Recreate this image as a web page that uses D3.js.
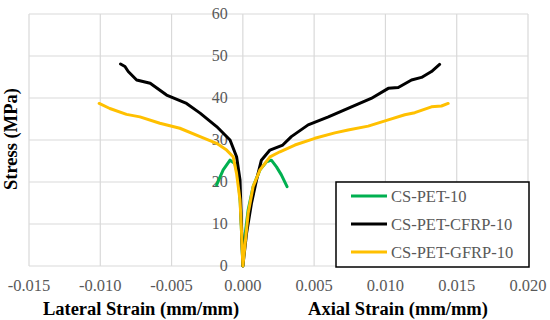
<!DOCTYPE html>
<html>
<head>
<meta charset="utf-8">
<script src="https://cdn.jsdelivr.net/npm/d3@7"></script>
<style>
  body { margin: 0; background: #fff; }
</style>
</head>
<body>
<div id="chart"></div>
<script>
// stress-strain curves, lateral strain negative, axial strain positive
const seriesNames = ['CS-PET-10', 'CS-PET-CFRP-10', 'CS-PET-GFRP-10'];
const seriesColors = ['#00b050', '#000000', '#ffc000'];

const petStrain = [-0.00184, -0.00138, -0.0009, -0.00056, -0.00033, -0.00018, -0.0001, 0,
    0.00014, 0.00037, 0.00072, 0.0012, 0.00166, 0.002, 0.00236, 0.0027, 0.0031];
const petStress = [19.3, 22.9, 25.2, 24.4, 21.3, 14.9, 8.6, 0,
    7.0, 13.3, 18.9, 22.9, 24.8, 25.2, 23.6, 21.7, 18.9];

const cfrpStrain = [-0.00858, -0.00827, -0.00804, -0.00745, -0.0065, -0.00535, -0.00395, -0.003,
    -0.00184, -0.0009, -0.00044, -0.0002, -0.0001, 0,
    0.00026, 0.0006, 0.00096, 0.0013, 0.0019, 0.0028, 0.0034, 0.00458, 0.006, 0.00762,
    0.009, 0.0102, 0.0109, 0.01183, 0.01253, 0.01323, 0.0138];
const cfrpStress = [48.1, 47.5, 46.3, 44.3, 43.5, 40.7, 38.7, 36.4,
    33.2, 30.0, 26.0, 20.5, 10.0, 0,
    7.8, 14.9, 20.5, 25.2, 27.6, 28.8, 30.8, 33.6, 35.5, 37.9,
    39.9, 42.3, 42.5, 44.3, 44.9, 46.3, 48.0];

const gfrpStrain = [-0.01008, -0.00933, -0.00816, -0.00722, -0.00582, -0.00442, -0.003,
    -0.00184, -0.00114, -0.00068, -0.00044, -0.0002, -0.0001, 0,
    0.00014, 0.00037, 0.00072, 0.0012, 0.0019, 0.0026, 0.00365, 0.00505, 0.00645,
    0.00738, 0.00879, 0.0102, 0.01136, 0.01206, 0.01323, 0.01393, 0.0144];
const gfrpStress = [38.7, 37.5, 36.1, 35.5, 34.0, 32.8, 30.8,
    29.2, 27.6, 26.0, 22.0, 15.7, 8.6, 0,
    4.6, 12.5, 18.9, 22.9, 26.0, 27.2, 28.8, 30.4, 31.7,
    32.4, 33.3, 34.8, 36.0, 36.5, 37.9, 38.1, 38.7];

const xTicks = [-0.015, -0.010, -0.005, 0.000, 0.005, 0.010, 0.015, 0.020];
const yTicks = [0, 10, 20, 30, 40, 50, 60];

const width = 550, height = 320;
const plot = {left: 29, right: 528, top: 14, bottom: 266};
const serif = 'Liberation Serif';

const x = d3.scaleLinear().domain([-0.015, 0.020]).range([plot.left, plot.right]);
const y = d3.scaleLinear().domain([0, 60]).range([plot.bottom, plot.top]);

const svg = d3.select('#chart').append('svg')
    .attr('width', width)
    .attr('height', height)
    .attr('font-family', serif);

// gridlines
svg.append('g')
    .selectAll('line')
    .data(xTicks)
    .join('line')
    .attr('x1', d => x(d)).attr('x2', d => x(d))
    .attr('y1', plot.top).attr('y2', plot.bottom)
    .attr('stroke', '#d9d9d9').attr('stroke-width', 1.2);

svg.append('g')
    .selectAll('line')
    .data(yTicks)
    .join('line')
    .attr('x1', plot.left).attr('x2', plot.right)
    .attr('y1', d => y(d)).attr('y2', d => y(d))
    .attr('stroke', '#d9d9d9').attr('stroke-width', 1.2);

// tick labels
svg.append('g')
    .selectAll('text')
    .data(xTicks)
    .join('text')
    .attr('x', d => x(d))
    .attr('y', 291)
    .attr('text-anchor', 'middle')
    .attr('font-family', serif)
    .style('font-family', serif)
    .attr('font-size', '16.5px')
    .attr('fill', '#595959')
    .text(d => d3.format('.3f')(d).replace('−', '-'));

svg.append('g')
    .selectAll('text')
    .data(yTicks)
    .join('text')
    .attr('x', x(0) - 15)
    .attr('y', d => y(d))
    .attr('dy', '0.34em')
    .attr('text-anchor', 'end')
    .attr('font-family', serif)
    .style('font-family', serif)
    .attr('font-size', '16px')
    .attr('fill', '#595959')
    .text(d => d);

// curves
const data = [
    petStrain.map((s, i) => [s, petStress[i]]),
    cfrpStrain.map((s, i) => [s, cfrpStress[i]]),
    gfrpStrain.map((s, i) => [s, gfrpStress[i]])
];

const line = d3.line()
    .x(d => x(d[0]))
    .y(d => y(d[1]));

svg.append('g')
    .selectAll('path')
    .data(data)
    .join('path')
    .attr('d', line)
    .attr('fill', 'none')
    .attr('stroke', (d, i) => seriesColors[i])
    .attr('stroke-width', 3)
    .attr('stroke-linejoin', 'round')
    .attr('stroke-linecap', 'round');

// axis titles
const titles = [
    {text: 'Lateral Strain (mm/mm)', t: 'translate(141,315)'},
    {text: 'Axial Strain (mm/mm)', t: 'translate(398,315)'},
    {text: 'Stress (MPa)', t: 'translate(17,139) rotate(-90)'}
];
svg.append('g')
    .selectAll('text')
    .data(titles)
    .join('text')
    .attr('transform', d => d.t)
    .attr('text-anchor', 'middle')
    .attr('font-family', serif)
    .style('font-family', serif)
    .attr('font-size', '18.5px')
    .attr('font-weight', 'bold')
    .attr('fill', '#000')
    .text(d => d.text);

// legend
const legend = svg.append('g').attr('transform', 'translate(336,182)');
legend.append('rect')
    .attr('width', 193).attr('height', 85)
    .attr('fill', '#fff').attr('stroke', '#000').attr('stroke-width', 1.5);

const rows = legend.selectAll('g')
    .data(seriesNames)
    .join('g')
    .attr('transform', (d, i) => `translate(0,${14 + i * 28})`);

rows.append('line')
    .attr('x1', 15).attr('x2', 51)
    .attr('stroke', (d, i) => seriesColors[i])
    .attr('stroke-width', 3);

rows.append('text')
    .attr('x', 55).attr('dy', '0.34em')
    .attr('font-family', serif)
    .style('font-family', serif)
    .attr('font-size', '16.5px')
    .attr('fill', '#595959')
    .text(d => d);
</script>
</body>
</html>
